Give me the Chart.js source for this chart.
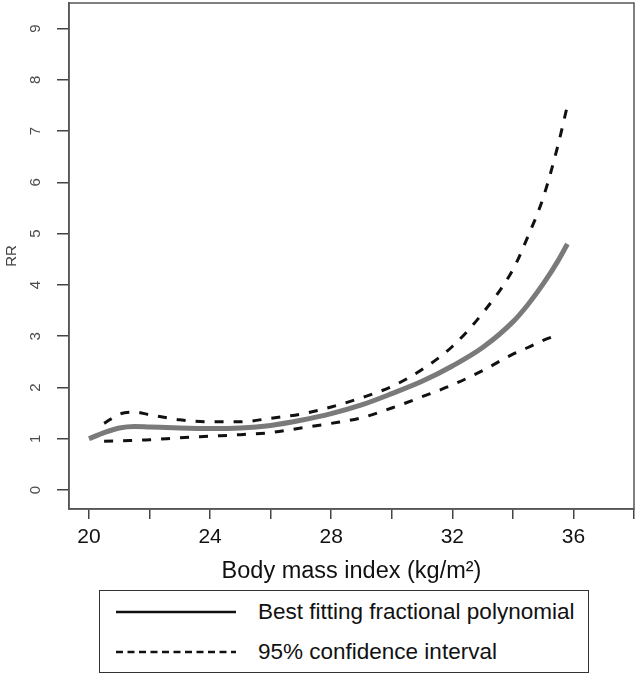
<!DOCTYPE html>
<html>
<head>
<meta charset="utf-8">
<script src="https://cdn.jsdelivr.net/npm/chart.js@4.4.1/dist/chart.umd.min.js"></script>
<style>
  html, body { margin: 0; padding: 0; background: #fff; }
  #wrap { position: relative; width: 640px; height: 674px; font-family: 'Liberation Sans', Arial, sans-serif; }
  #chart-box { position: absolute; left: 0; top: 0; width: 640px; height: 586px; }
  #legend { position: absolute; left: 99px; top: 590px; width: 490px; height: 83px;
            border: 1.5px solid #333; box-sizing: border-box; }
  .leg-row { position: absolute; left: 0; height: 30px; display: flex; align-items: center;
             font-size: 22.5px; color: #111; white-space: nowrap; }
  .leg-row svg { margin-left: 16px; margin-right: 22px; }
</style>
</head>
<body>
<div id="wrap">
  <div id="chart-box"><canvas id="rr-chart" width="640" height="586"></canvas></div>
  <div id="legend"></div>
</div>
<script>
/* ===== DATA ===== */
const bmi   = [20, 20.5, 21, 21.5, 22, 23, 24, 25, 26, 27, 28, 29, 30, 31, 32, 33, 34, 34.5, 35, 35.5, 35.8];
const fit   = [1.0, 1.12, 1.21, 1.24, 1.23, 1.21, 1.2, 1.21, 1.26, 1.36, 1.49, 1.66, 1.88, 2.12, 2.42, 2.78, 3.28, 3.62, 4.02, 4.48, 4.8];
const upper = [null, 1.3, 1.48, 1.52, 1.47, 1.37, 1.33, 1.33, 1.4, 1.48, 1.62, 1.8, 2.02, 2.35, 2.8, 3.45, 4.3, 4.95, 5.7, 6.75, 7.5];
const lower = [null, 0.95, 0.96, 0.97, 0.98, 1.02, 1.05, 1.08, 1.12, 1.21, 1.3, 1.41, 1.6, 1.82, 2.05, 2.33, 2.65, 2.78, 2.92, 3.03, null];

const xTicks  = [20, 22, 24, 26, 28, 30, 32, 34, 36, 38];
const xLabels = [20, 24, 28, 32, 36];
const yTicks  = [0, 1, 2, 3, 4, 5, 6, 7, 8, 9];

const xTitle = 'Body mass index (kg/m²)';
const yTitle = 'RR';
const fitLabel = 'Best fitting fractional polynomial';
const ciLabel  = '95% confidence interval';

const FONT = "'Liberation Sans', Arial, sans-serif";

function toPoints(vals) {
  return bmi.map((x, i) => ({ x, y: vals[i] })).filter(p => p.y !== null);
}

/* ===== FRAME + ROTATED Y LABELS ===== */
const frameAndLabels = {
  id: 'frameAndLabels',
  afterDraw(chart) {
    const { ctx, chartArea: a, scales: { y } } = chart;
    ctx.save();
    ctx.strokeStyle = '#555';
    ctx.lineWidth = 1.5;
    ctx.strokeRect(a.left, a.top, a.right - a.left, a.bottom - a.top);
    ctx.fillStyle = '#4a4a4a';
    ctx.font = '15px ' + FONT;
    ctx.textAlign = 'center';
    ctx.textBaseline = 'middle';
    y.ticks.forEach(t => {
      const py = y.getPixelForValue(t.value);
      ctx.save();
      ctx.translate(36, py);
      ctx.rotate(-Math.PI / 2);
      ctx.fillText(String(t.value), 0, 0);
      ctx.restore();
    });
    ctx.restore();
  }
};

const ciStyle = { borderColor: '#111', borderWidth: 3, borderDash: [9, 10], pointRadius: 0, fill: false, cubicInterpolationMode: 'monotone' };

new Chart(document.getElementById('rr-chart'), {
  type: 'line',
  data: {
    datasets: [
      { label: ciLabel, data: toPoints(upper), ...ciStyle },
      { label: ciLabel, data: toPoints(lower), ...ciStyle },
      { label: fitLabel, data: toPoints(fit), borderColor: '#7a7a7a', borderWidth: 5, pointRadius: 0, fill: false, cubicInterpolationMode: 'monotone' }
    ]
  },
  options: {
    responsive: false,
    animation: false,
    layout: { padding: { top: 3, right: 3, left: 0, bottom: 0 } },
    plugins: { legend: { display: false }, tooltip: { enabled: false } },
    scales: {
      x: {
        type: 'linear', min: 19.34, max: 38,
        afterBuildTicks: s => { s.ticks = xTicks.map(v => ({ value: v })); },
        afterFit: s => { s.height = 77; },
        ticks: { callback: v => xLabels.includes(v) ? String(v) : '', padding: 6, maxRotation: 0, autoSkip: false,
                 color: '#111', font: { family: FONT, size: 21 } },
        grid: { drawOnChartArea: false, drawTicks: true, tickLength: 10, color: '#444', lineWidth: 1.5 },
        border: { display: true, color: '#555', width: 1.5 },
        title: { display: true, text: xTitle, color: '#111', font: { family: FONT, size: 23.5 }, padding: { top: 2, bottom: 0 } }
      },
      y: {
        type: 'linear', min: -0.37, max: 9.5,
        afterBuildTicks: s => { s.ticks = yTicks.map(v => ({ value: v })); },
        afterFit: s => { s.width = 69; },
        ticks: { display: false },
        grid: { drawOnChartArea: false, drawTicks: true, tickLength: 12, color: '#444', lineWidth: 1.5 },
        border: { display: true, color: '#555', width: 1.5 },
        title: { display: true, text: yTitle, color: '#444', font: { family: FONT, size: 15 }, padding: { top: 3, bottom: 0 } }
      }
    }
  },
  plugins: [frameAndLabels]
});

/* ===== LEGEND ===== */
const legend = document.getElementById('legend');
[[fitLabel, ''], [ciLabel, '7 4.5']].forEach(([text, dash], i) => {
  const row = document.createElement('div');
  row.className = 'leg-row';
  row.style.top = (i === 0 ? 6 : 46) + 'px';
  row.innerHTML = `<svg width="120" height="6"><line x1="0" y1="3" x2="120" y2="3" stroke="#111" stroke-width="2.5"${dash ? ` stroke-dasharray="${dash}"` : ''}/></svg><span>${text}</span>`;
  legend.appendChild(row);
});
</script>
</body>
</html>
